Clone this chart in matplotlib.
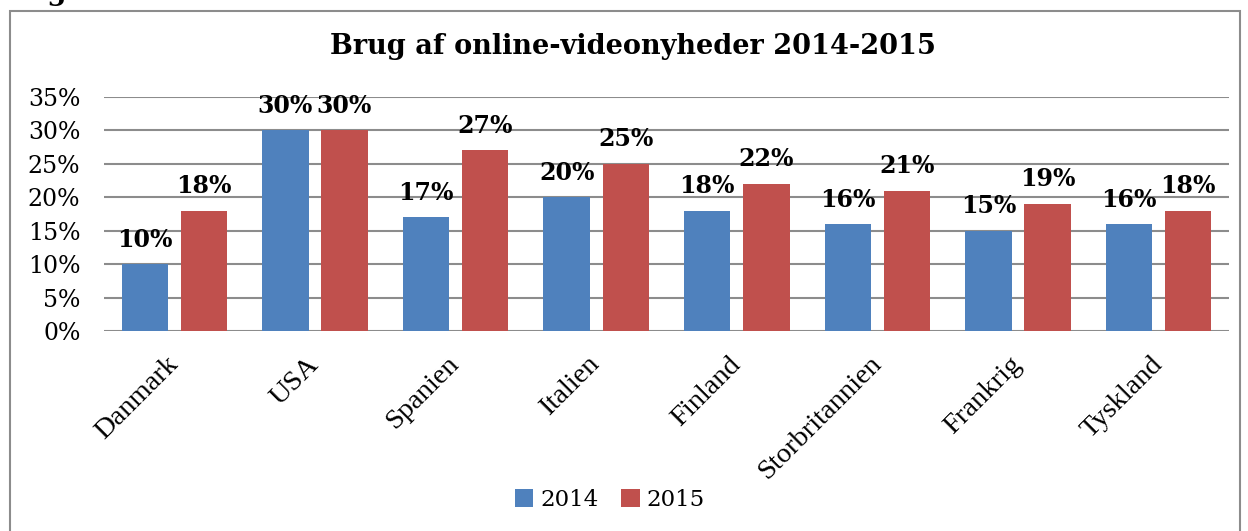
import matplotlib
matplotlib.use("Agg")
import matplotlib.pyplot as plt
from matplotlib.patches import Rectangle
from matplotlib.transforms import ScaledTranslation
import numpy as np

categories = ["Danmark", "USA", "Spanien", "Italien", "Finland",
              "Storbritannien", "Frankrig", "Tyskland"]
values_2014 = [10, 30, 17, 20, 18, 16, 15, 16]
values_2015 = [18, 30, 27, 25, 22, 21, 19, 18]
series_names = ["2014", "2015"]
yticks = [0, 5, 10, 15, 20, 25, 30, 35]
title = "Brug af online-videonyheder 2014-2015"

blue = "#4F81BD"
red = "#C0504D"
serif = "DejaVu Serif"

fig = plt.figure(figsize=(12.48, 5.31), dpi=100)
ax = fig.add_axes([104/1248, 1-331/531, (1229-104)/1248, (331-97)/531])

x = np.arange(len(categories))
w = 0.33
off = 0.21
b1 = ax.bar(x - off, values_2014, w, color=blue, label=series_names[0], zorder=3)
b2 = ax.bar(x + off, values_2015, w, color=red, label=series_names[1], zorder=3)

for bars, vals in ((b1, values_2014), (b2, values_2015)):
    for rect, v in zip(bars, vals):
        ax.annotate(f"{v}%", (rect.get_x() + rect.get_width()/2, v),
                    xytext=(0, 9), textcoords="offset points",
                    ha="center", va="bottom", fontsize=17, fontweight="bold",
                    family=serif, zorder=5)

ax.set_xlim(-0.5, len(categories) - 0.5)
ax.set_ylim(0, 35)
ax.set_yticks(yticks)
ax.set_yticklabels([f"{t}%" for t in yticks], family=serif, fontsize=17)
ax.set_xticks(x)
ax.set_xticklabels(categories, rotation=45, ha="right", rotation_mode="anchor",
                   family="Liberation Serif", fontsize=20.5)
ax.tick_params(axis="both", length=0)
ax.tick_params(axis="y", pad=17)
ax.tick_params(axis="x", pad=15)
shift = ScaledTranslation(-9/100, 0, fig.dpi_scale_trans)
for lbl in ax.get_xticklabels():
    lbl.set_transform(lbl.get_transform() + shift)
ax.grid(axis="y", color="#8c8c8c", linewidth=1.5, zorder=0)
for s in ax.spines.values():
    s.set_visible(False)

fig.text(633/1248, 1-47/531, title, ha="center", va="center",
         fontsize=19.5, fontweight="bold", family=serif)

leg = fig.legend(handles=[b1, b2], labels=series_names, loc="center",
                 bbox_to_anchor=(610/1248, 1-500/531), ncol=2, frameon=False,
                 prop={"family": serif, "size": 16.5}, handlelength=0.8,
                 handleheight=0.8, handletextpad=0.3, columnspacing=1.0)

fig.patches.append(Rectangle((10/1248, -0.05), (1240-10)/1248, 1.05 - 11/531,
                             transform=fig.transFigure, fill=False,
                             edgecolor="#8c8c8c", linewidth=1.5))
fig.text(18/1248, 1 + 0/531, "Fig", ha="left", va="baseline",
         fontsize=20, fontweight="bold", family=serif)

fig.savefig("out.png", dpi=100)
